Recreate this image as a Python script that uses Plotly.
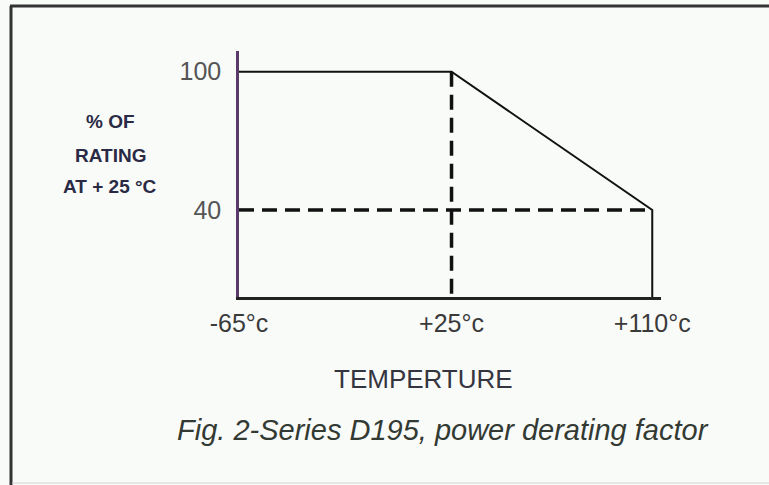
import plotly.graph_objects as go

# ---- data ----
curve_x = [-65, 25, 110, 110]
curve_y = [100, 100, 40, 0]
dash_v_x = [25, 25]
dash_v_y = [100, 0]
dash_h_x = [-65, 110]
dash_h_y = [40, 40]
x_tickvals = [-65, 25, 110]
x_ticktext = ["-65°c", "+25°c", "+110°c"]
y_tickvals = [100, 40]
y_ticktext = ["100", "40"]
y_title_lines = ["% OF", "RATING", "AT + 25 °C"]
x_title = "TEMPERTURE"
caption = "Fig. 2-Series D195, power derating factor"

W, H = 769, 485
L, R, T, B = 239, 108, 51, 188
pw, ph = W - L - R, H - T - B

def px(x):
    return (x - L) / pw

def py(y):
    return (H - B - y) / ph

fig = go.Figure()
fig.add_trace(go.Scatter(x=dash_h_x, y=dash_h_y, mode="lines",
                         line=dict(color="#111111", width=3.5, dash="15px,8px"),
                         hoverinfo="skip"))
fig.add_trace(go.Scatter(x=dash_v_x, y=dash_v_y, mode="lines",
                         line=dict(color="#111111", width=3.5, dash="15px,8px"),
                         hoverinfo="skip"))
fig.add_trace(go.Scatter(x=curve_x, y=curve_y, mode="lines",
                         line=dict(color="#111111", width=2),
                         hoverinfo="skip"))

font_main = "Liberation Sans, Arial, sans-serif"

fig.update_layout(
    width=W, height=H,
    margin=dict(l=L, r=R, t=T, b=B),
    paper_bgcolor="#f9fbf9", plot_bgcolor="#f9fbf9",
    showlegend=False,
    xaxis=dict(range=[-65, 113.7], showgrid=False, zeroline=False,
               showline=True, linecolor="#222222", linewidth=2.5,
               tickvals=x_tickvals, ticktext=x_ticktext, ticks="",
               ticklabelstandoff=2,
               tickfont=dict(family=font_main, size=25, color="#3a3a3a")),
    yaxis=dict(range=[2.2, 109], showgrid=False, zeroline=False,
               showline=True, linecolor="#5a3a6a", linewidth=2.5,
               tickvals=y_tickvals, ticktext=y_ticktext, ticks="",
               ticklabelstandoff=10,
               tickfont=dict(family=font_main, size=25, color="#555555")),
)

shapes = [
    dict(type="line", xref="paper", yref="paper", x0=px(11), x1=px(11), y0=py(6), y1=py(H),
         line=dict(color="#333333", width=3)),
    dict(type="line", xref="paper", yref="paper", x0=px(10), x1=px(W), y0=py(6), y1=py(6),
         line=dict(color="#333333", width=3)),
    dict(type="line", xref="paper", yref="paper", x0=px(12), x1=px(W), y0=py(483), y1=py(483),
         line=dict(color="#d0d0d0", width=1)),
]
fig.update_layout(shapes=shapes)

for i, (t, yy) in enumerate(zip(y_title_lines, [122, 155, 186])):
    fig.add_annotation(x=px(110), y=py(yy), xref="paper", yref="paper",
                       text="<b>%s</b>" % t, showarrow=False, xanchor="center", yanchor="middle",
                       font=dict(family=font_main, size=19, color="#2a2a45"))

fig.add_annotation(x=px(423), y=py(379), xref="paper", yref="paper", text=x_title,
                   showarrow=False, xanchor="center", yanchor="middle",
                   font=dict(family=font_main, size=26, color="#353540"))
fig.add_annotation(x=px(443), y=py(430), xref="paper", yref="paper", text="<i>%s</i>" % caption,
                   showarrow=False, xanchor="center", yanchor="middle",
                   font=dict(family=font_main, size=29, color="#333a33"))

fig.write_html("out.html", config={"displayModeBar": False},
               post_script="document.body.style.margin='0';")
